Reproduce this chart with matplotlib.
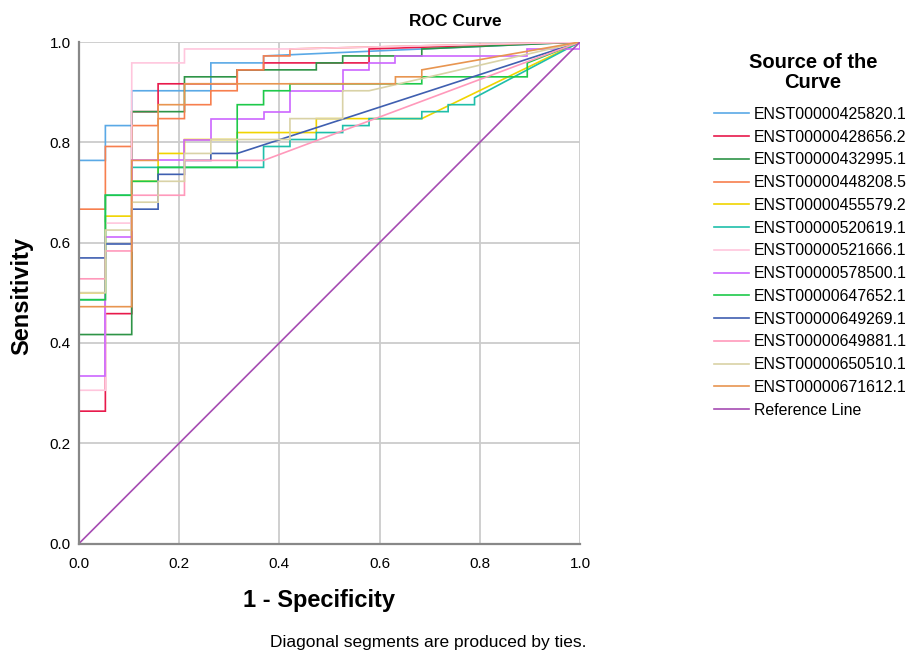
import numpy as np
import matplotlib.pyplot as plt

# ROC vertices as counts: false positives out of 19 controls,
# true positives out of 72 cases
n_neg = 19
n_pos = 72

fp_425820 = [0, 0, 1, 1, 2, 2, 5, 5, 7, 7, 19]
tp_425820 = [0, 55, 55, 60, 60, 65, 65, 69, 69, 70, 72]

fp_428656 = [0, 0, 1, 1, 2, 2, 3, 3, 6, 6, 7, 7, 11, 11, 19]
tp_428656 = [0, 19, 19, 33, 33, 62, 62, 66, 66, 68, 68, 69, 69, 71, 72]

fp_432995 = [0, 0, 2, 2, 4, 4, 6, 6, 9, 9, 10, 10, 13, 13, 19]
tp_432995 = [0, 30, 30, 62, 62, 67, 67, 68, 68, 69, 69, 70, 70, 71, 72]

fp_448208 = [0, 0, 1, 1, 2, 2, 3, 3, 4, 4, 5, 5, 6, 6, 7, 7, 8, 8, 19]
tp_448208 = [0, 48, 48, 57, 57, 60, 60, 61, 61, 63, 63, 65, 65, 68, 68, 70, 70, 71, 72]

fp_455579 = [0, 0, 1, 1, 2, 2, 3, 3, 4, 4, 6, 6, 9, 9, 13, 19]
tp_455579 = [0, 36, 36, 47, 47, 52, 52, 56, 56, 58, 58, 59, 59, 61, 61, 72]

fp_520619 = [0, 0, 1, 1, 2, 2, 7, 7, 8, 8, 9, 9, 10, 10, 11, 11, 13, 13, 14, 14, 15, 15, 19]
tp_520619 = [0, 35, 35, 50, 50, 54, 54, 57, 57, 58, 58, 59, 59, 60, 60, 61, 61, 62, 62, 63, 63, 64, 72]

fp_521666 = [0, 0, 1, 1, 2, 2, 4, 4, 8, 19]
tp_521666 = [0, 22, 22, 46, 46, 69, 69, 71, 71, 72]

fp_578500 = [0, 0, 1, 1, 2, 2, 4, 4, 5, 5, 7, 7, 8, 8, 10, 10, 11, 11, 12, 12, 17, 17, 19, 19]
tp_578500 = [0, 24, 24, 44, 44, 55, 55, 58, 58, 61, 61, 62, 62, 65, 65, 68, 68, 69, 69, 70, 70, 71, 71, 72]

fp_647652 = [0, 0, 1, 1, 2, 2, 3, 3, 6, 6, 7, 7, 8, 8, 13, 13, 17, 17, 19]
tp_647652 = [0, 35, 35, 50, 50, 52, 52, 54, 54, 63, 63, 65, 65, 66, 66, 67, 67, 69, 72]

fp_649269 = [0, 0, 1, 1, 2, 2, 3, 3, 4, 4, 5, 5, 6, 19]
tp_649269 = [0, 41, 41, 43, 43, 48, 48, 53, 53, 55, 55, 56, 56, 72]

fp_649881 = [0, 0, 1, 1, 2, 2, 4, 4, 7, 19]
tp_649881 = [0, 38, 38, 42, 42, 50, 50, 55, 55, 72]

fp_650510 = [0, 0, 1, 1, 2, 2, 3, 3, 4, 4, 5, 5, 8, 8, 10, 10, 11, 19]
tp_650510 = [0, 36, 36, 45, 45, 49, 49, 52, 52, 56, 56, 58, 58, 61, 61, 65, 65, 72]

fp_671612 = [0, 0, 2, 2, 3, 3, 4, 4, 12, 12, 13, 13, 19]
tp_671612 = [0, 34, 34, 55, 55, 63, 63, 66, 66, 67, 67, 68, 72]

labels = ["ENST00000425820.1", "ENST00000428656.2", "ENST00000432995.1",
          "ENST00000448208.5", "ENST00000455579.2", "ENST00000520619.1",
          "ENST00000521666.1", "ENST00000578500.1", "ENST00000647652.1",
          "ENST00000649269.1", "ENST00000649881.1", "ENST00000650510.1",
          "ENST00000671612.1"]
colors = ["#5aa9e6", "#e8194b", "#2e9447", "#f77f4e", "#f0d400", "#1fbfaa",
          "#ffc6dd", "#cc66ff", "#1ec94a", "#3f5fb0", "#ff99bb", "#d9d2a6",
          "#e89550"]

fps = [fp_425820, fp_428656, fp_432995, fp_448208, fp_455579, fp_520619,
       fp_521666, fp_578500, fp_647652, fp_649269, fp_649881, fp_650510,
       fp_671612]
tps = [tp_425820, tp_428656, tp_432995, tp_448208, tp_455579, tp_520619,
       tp_521666, tp_578500, tp_647652, tp_649269, tp_649881, tp_650510,
       tp_671612]

plt.rcParams['font.family'] = ['Liberation Sans', 'DejaVu Sans']

W, H = 914, 652
fig = plt.figure(figsize=(W / 100, H / 100), dpi=100)
ax = fig.add_axes([79 / W, 1 - 543.5 / H, 501 / W, 501.5 / H])

for fp, tp, lab, c in zip(fps, tps, labels, colors):
    ax.plot(np.array(fp) / n_neg, np.array(tp) / n_pos, color=c, lw=1.2,
            label=lab, solid_joinstyle='miter')
ax.plot([0, 1], [0, 1], color="#a64cb3", lw=1.2, label="Reference Line")

ax.set_xlim(0, 1)
ax.set_ylim(0, 1)
ticks = [0.0, 0.2, 0.4, 0.6, 0.8, 1.0]
ax.set_xticks(ticks)
ax.set_yticks(ticks)
ax.set_xticklabels([f"{t:.1f}" for t in ticks], fontsize=11)
ax.set_yticklabels([f"{t:.1f}" for t in ticks], fontsize=11)
ax.tick_params(axis="x", length=0, pad=10)
ax.tick_params(axis="y", length=0, pad=6)
ax.grid(True, color="#cccccc", lw=1.3)
ax.set_axisbelow(True)
for side in ["top", "right"]:
    ax.spines[side].set_visible(False)
for side in ["left", "bottom"]:
    ax.spines[side].set_color("#888888")
    ax.spines[side].set_linewidth(1.6)

fig.text(455 / W, 1 - 22 / H, "ROC Curve", fontsize=12.5, fontweight="bold",
         ha="center", va="center")
fig.text(319 / W, 1 - 601 / H, "1 - Specificity", fontsize=17,
         fontweight="bold", ha="center", va="center")
fig.text(22 / W, 1 - 296 / H, "Sensitivity", fontsize=17, fontweight="bold",
         ha="center", va="center", rotation=90)

leg = ax.legend(loc="upper left", bbox_to_anchor=(706 / W, 1 - 99 / H),
                bbox_transform=fig.transFigure, frameon=False, fontsize=11.4,
                handlelength=2.2, handletextpad=0.3, labelspacing=0.49,
                borderpad=0)
fig.text(813 / W, 1 - 72.5 / H, "Source of the\nCurve", fontsize=14.5,
         fontweight="bold", ha="center", va="center", linespacing=1.12)

fig.text(270 / W, 1 - 643 / H, "Diagonal segments are produced by ties.",
         fontsize=12.5, va="center", ha="left")

fig.savefig("out.png", dpi=100)
